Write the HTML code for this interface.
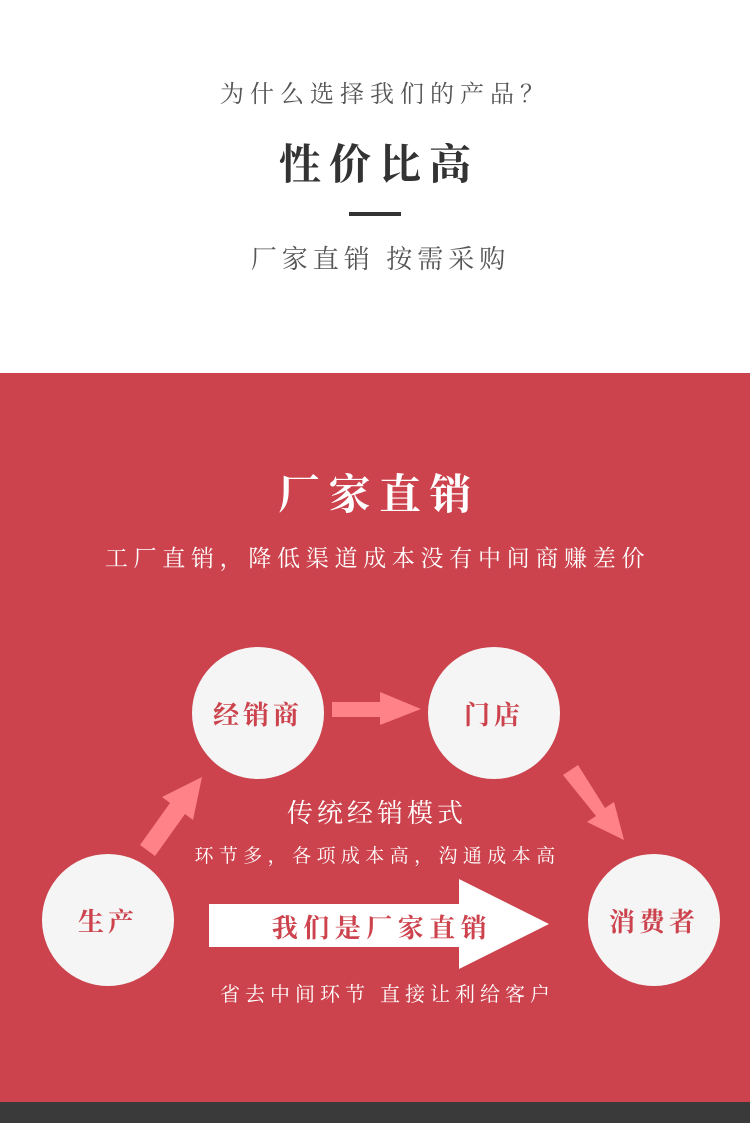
<!DOCTYPE html>
<html><head><meta charset="utf-8"><style>
*{margin:0;padding:0}
body{width:750px;height:1123px;position:relative;background:#fff;overflow:hidden;font-family:"Liberation Serif","Noto Serif CJK SC",serif}
.t{position:absolute;left:0;width:750px;text-align:center;white-space:nowrap}
.c{position:absolute;width:132px;height:132px;border-radius:50%;background:#f5f5f5;color:#cc434d;font-size:26px;font-weight:bold;display:flex;align-items:center;justify-content:center;letter-spacing:4px}
</style></head><body>
<div class="t" style="top:74px;left:7px;font-size:24px;color:#555;letter-spacing:6px;text-indent:6px">为什么选择我们的产品？</div>
<div class="t" style="top:132px;font-size:42px;color:#333;font-weight:bold;letter-spacing:8px;text-indent:8px">性价比高</div>
<div style="position:absolute;left:349px;top:212px;width:52px;height:4px;background:#333"></div>
<div class="t" style="top:239px;left:3px;font-size:26px;color:#555;letter-spacing:5px;text-indent:5px">厂家直销 按需采购</div>
<div style="position:absolute;left:0;top:373px;width:750px;height:729px;background:#cc434d"></div>
<div style="position:absolute;left:0;top:1102px;width:750px;height:21px;background:#3a3a3a"></div>
<div class="t" style="top:462px;font-size:42px;color:#fff;font-weight:bold;letter-spacing:8.5px;text-indent:8px">厂家直销</div>
<div class="t" style="top:540px;font-size:23px;color:#fff;letter-spacing:5.7px;text-indent:5px">工厂直销，降低渠道成本没有中间商赚差价</div>
<svg style="position:absolute;left:0;top:0" width="750" height="1123">
<polygon points="332,702 380,702 380,692 421,709 380,725 380,717 332,717" fill="#ff8289"/>
<polygon points="140,845 170,803 162,797 202,777 193,820 185,814 155,856" fill="#ff8289"/>
<polygon points="563,775 578,765 605,808 614,802 624,840 587,822 596,816" fill="#ff8289"/>
<polygon points="209,904 459,904 459,879 549,924 459,969 459,947 209,947" fill="#fff"/>
</svg>
<div class="c" style="left:192px;top:647px">经销商</div>
<div class="c" style="left:428px;top:647px">门店</div>
<div class="c" style="left:42px;top:854px">生产</div>
<div class="c" style="left:588px;top:854px">消费者</div>
<div class="t" style="top:793px;font-size:26px;color:#fff;letter-spacing:4px;text-indent:4px">传统经销模式</div>
<div class="t" style="top:841px;font-size:19px;color:#fff;letter-spacing:5.4px;text-indent:5px">环节多，各项成本高，沟通成本高</div>
<div style="position:absolute;left:209px;top:908px;width:346px;text-align:center;font-size:26px;font-weight:bold;color:#cc434d;letter-spacing:5.5px">我们是厂家直销</div>
<div class="t" style="top:978px;left:10px;font-size:20px;color:#fff;letter-spacing:5px;text-indent:5px">省去中间环节 直接让利给客户</div>
</body></html>
